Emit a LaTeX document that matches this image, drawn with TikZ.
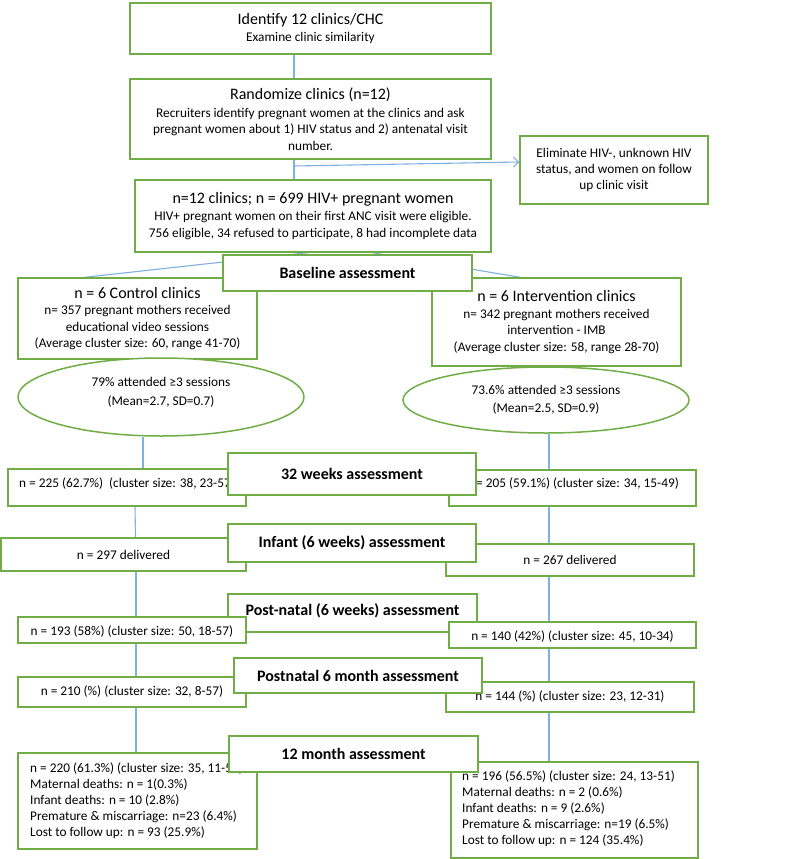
\documentclass[tikz,border=0pt]{standalone}
\usepackage{fontspec}
\setmainfont{Carlito}
\usetikzlibrary{arrows.meta,shapes.geometric}
\definecolor{gbord}{HTML}{70AD47}
\definecolor{lblue}{HTML}{7EB0E0}
\newcommand\bodyfs{\fontsize{13.3}{16.5}\selectfont}
\newcommand\ttlfs{\fontsize{16}{19}\selectfont}
\newcommand\listfs{\fontsize{13.3}{16}\selectfont}
\newcommand\upby[2]{\raisebox{#1}[\height][\depth]{#2}}
\pgfdeclarelayer{back}
\pgfdeclarelayer{bg}
\pgfsetlayers{back,bg,main}
\begin{document}
\begin{tikzpicture}[x=1pt,y=-1pt,
  gbox/.style={draw=gbord,line width=1.5pt,fill=white,inner sep=0pt,align=center,font=\bodyfs},
  abox/.style={gbox,font=\ttlfs\bfseries},
  ell/.style={gbox,ellipse},
  conn/.style={draw=lblue,line width=1.1pt},
  listtext/.style={anchor=west,align=left,inner sep=0pt,font=\listfs},
  elltext/.style={align=center,inner sep=0pt,font=\fontsize{13.3}{18.5}\selectfont}]
\begin{pgfonlayer}{back}
\fill[white] (0,0) rectangle (785,859);
\end{pgfonlayer}
\useasboundingbox (0,0) rectangle (785,859);

% top
\node[gbox,minimum width=361pt,minimum height=51pt] (b1) at (310.5,28.5)
  {{\ttlfs Identify 12 clinics/CHC}\\[1pt] Examine clinic similarity};
\node[gbox,minimum width=361pt,minimum height=80pt] (b2) at (310.5,119)
  {{\ttlfs Randomize clinics (n=12)}\\[1pt] Recruiters identify pregnant women at the clinics and ask\\ pregnant women about 1) HIV status and 2) antenatal visit\\ number.};
\node[gbox,minimum width=356pt,minimum height=72pt] (b3) at (313,216)
  {{\ttlfs n=12 clinics; n = 699 HIV+ pregnant women}\\[1pt] HIV+ pregnant women on their first ANC visit were eligible.\\ 756 eligible, 34 refused to participate, 8 had incomplete data};
\node[gbox,minimum width=188pt,minimum height=68pt,font=\fontsize{13.3}{16}\selectfont] (elim) at (614,170)
  {Eliminate HIV-, unknown HIV\\ status, and women on follow\\ up clinic visit};

% arms
\node[gbox,minimum width=239pt,minimum height=81pt] (ctrl) at (137.5,318.5)
  {{\ttlfs n = 6 Control clinics}\\ n= 357 pregnant mothers received\\ educational video sessions\\ (Average cluster size: 60, range 41-70)};
\node[gbox,minimum width=249pt,minimum height=88pt] (intv) at (556.5,322)
  {{\ttlfs n = 6 Intervention clinics}\\ n= 342 pregnant mothers received\\ intervention - IMB\\ (Average cluster size: 58, range 28-70)};
\node[abox,minimum width=249pt,minimum height=36pt] (base) at (347.5,273) {Baseline assessment};
\node[ell,minimum width=286pt,minimum height=78pt] (ellC) at (161,397) {};
\node[elltext] (ellCt) at (161,392.5) {79\% attended ≥3 sessions\\ (Mean=2.7, SD=0.7)};
\node[ell,minimum width=286pt,minimum height=66pt] (ellI) at (546,400) {};
\node[elltext,font=\fontsize{13.3}{17.5}\selectfont] (ellIt) at (546,400) {73.6\% attended ≥3 sessions\\ (Mean=2.5, SD=0.9)};

% 32 weeks
\node[gbox,minimum width=238pt,minimum height=37pt] (wL) at (127,487.5)
  {\upby{4pt}{n = 225 (62.7\%)\ \ (cluster size: 38, 23-57)}};
\node[gbox,minimum width=247pt,minimum height=36pt] (wR) at (572.5,488)
  {\upby{4pt}{n = 205 (59.1\%) (cluster size: 34, 15-49)}};
\node[abox,minimum width=248pt,minimum height=42pt] (w32) at (352,474) {32 weeks assessment};

% infant
\node[gbox,minimum width=245pt,minimum height=33pt] (iL) at (123.5,554.5) {n = 297 delivered};
\node[gbox,minimum width=248pt,minimum height=32pt] (iR) at (570,560) {n = 267 delivered};
\node[abox,minimum width=248pt,minimum height=38pt] (inf) at (352,543) {Infant (6 weeks) assessment};

% post-natal 6 weeks
\node[abox,minimum width=249pt,minimum height=38pt] (pn) at (352.5,613) {\upby{2pt}{Post-natal (6 weeks) assessment}};
\node[gbox,minimum width=228pt,minimum height=26pt] (pL) at (132,630) {\upby{-2pt}{n = 193 (58\%) (cluster size: 50, 18-57)}};
\node[gbox,minimum width=247pt,minimum height=26pt] (pR) at (572.5,635) {\upby{-2pt}{n = 140 (42\%) (cluster size: 45, 10-34)}};

% postnatal 6 month
\node[gbox,minimum width=228pt,minimum height=30pt] (mL) at (132,692) {n = 210 (\%) (cluster size: 32, 8-57)};
\node[gbox,minimum width=248pt,minimum height=30pt] (mR) at (570,697) {n = 144 (\%) (cluster size: 23, 12-31)};
\node[abox,minimum width=248pt,minimum height=35pt] (m6) at (358,675.5) {Postnatal 6 month assessment};

% 12 month
\node[gbox,minimum width=239pt,minimum height=96pt] (tL) at (137.5,801) {};
\node[listtext] (tLt) at (30,801)
  {n = 220 (61.3\%) (cluster size: 35, 11-57)\\ Maternal deaths: n = 1(0.3\%)\\ Infant deaths: n = 10 (2.8\%)\\ Premature \& miscarriage: n=23 (6.4\%)\\ Lost to follow up: n = 93 (25.9\%)};
\node[gbox,minimum width=247pt,minimum height=96pt] (tR) at (574.5,810) {};
\node[listtext] (tRt) at (462,809)
  {n = 196 (56.5\%) (cluster size: 24, 13-51)\\ Maternal deaths: n = 2 (0.6\%)\\ Infant deaths: n = 9 (2.6\%)\\ Premature \& miscarriage: n=19 (6.5\%)\\ Lost to follow up: n = 124 (35.4\%)};
\node[abox,minimum width=249pt,minimum height=36pt] (t12) at (353.5,754) {12 month assessment};

\coordinate (split) at (294,166);

\begin{pgfonlayer}{bg}
\draw[conn] ([xshift=-16.5pt]b1.south) -- ([xshift=-16.5pt]b2.north);
\draw[conn] ([xshift=-16.5pt]b2.south) -- ([xshift=-19pt]b3.north);
\draw[conn,-{Straight Barb[length=5pt,width=10pt]}] (split) -- ([yshift=8pt]elim.west);
\draw[conn] ([xshift=30pt,yshift=4pt]b3.south) -- ([xshift=-52.5pt]ctrl.north);
\draw[conn] ([xshift=36pt,yshift=4pt]b3.south) -- ([xshift=-36.5pt]intv.north);
% control arm
\draw[conn] ([xshift=-18pt]ellC.south) -- ([xshift=16pt]wL.north);
\draw[conn] ([xshift=8pt]wL.south) -- ([xshift=12pt]iL.north);
\draw[conn] ([xshift=12.5pt]iL.south) -- ([xshift=4pt]pL.north);
\draw[conn] ([xshift=4pt]pL.south) -- ([xshift=4pt]mL.north);
\draw[conn] ([xshift=4pt]mL.south) -- ([xshift=-1.5pt]tL.north);
% intervention arm
\draw[conn] ([xshift=3pt]ellI.south) -- ([xshift=-23.5pt]wR.north);
\draw[conn] ([xshift=-23.5pt]wR.south) -- ([xshift=-21pt]iR.north);
\draw[conn] ([xshift=-21pt]iR.south) -- ([xshift=-23.5pt]pR.north);
\draw[conn] ([xshift=-23.5pt]pR.south) -- ([xshift=-21pt]mR.north);
\draw[conn] ([xshift=-21pt]mR.south) -- ([xshift=-25.5pt]tR.north);
\end{pgfonlayer}
\end{tikzpicture}
\end{document}
